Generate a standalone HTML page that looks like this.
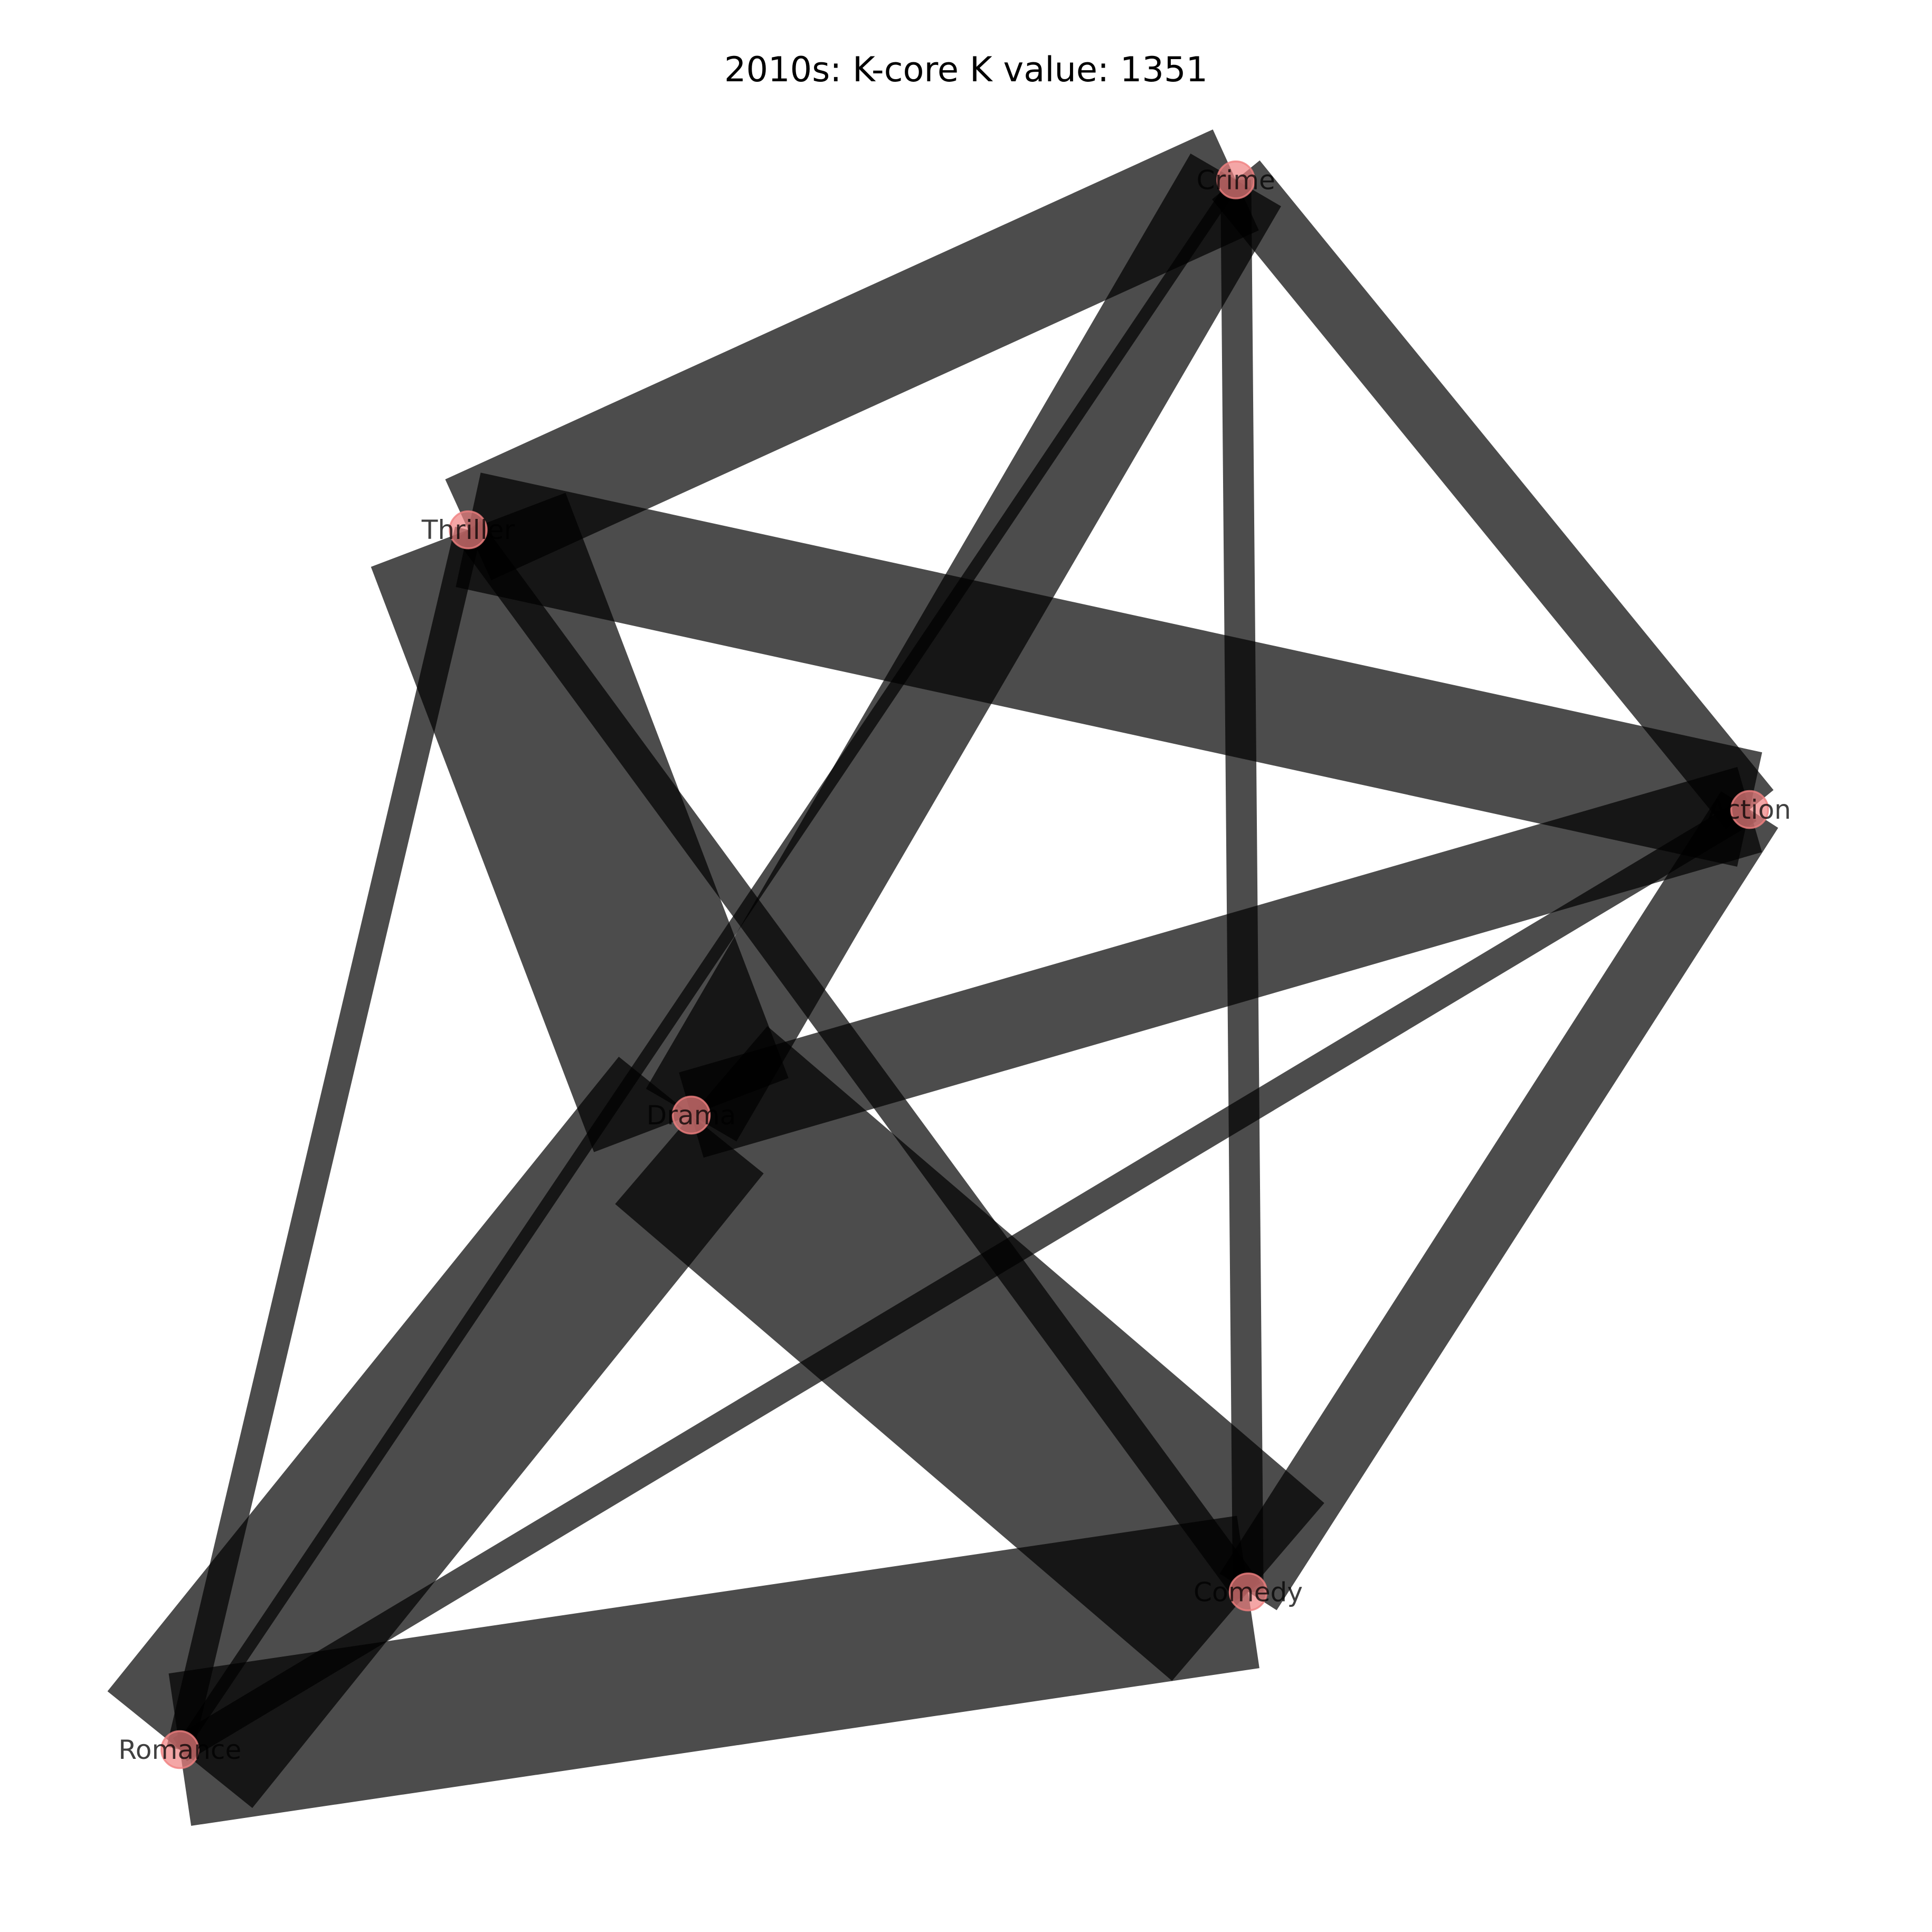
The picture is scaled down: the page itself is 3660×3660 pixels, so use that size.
<!DOCTYPE html>
<html><head><meta charset="utf-8"><style>
html,body{margin:0;padding:0;background:#fff}
svg{display:block}
</style></head><body>
<svg id="chart" width="3660" height="3660" viewBox="0 0 1568 1568" xmlns="http://www.w3.org/2000/svg">
<rect width="1568" height="1568" fill="#fff"/>
<text x="784" y="66" text-anchor="middle" font-family="DejaVu Sans, Liberation Sans, sans-serif" font-size="28" fill="#000">2010s: K-core K value: 1351</text>
<g id="edges"></g>
<g id="nodes"></g>
</svg>
<script>
const nodeNames = ["Crime","Thriller","Action","Drama","Comedy","Romance"];
const nodeX = [1003,380,1420,561,1013,146];
const nodeY = [146,430,657,905,1292,1420];
const edgeSource = ["Crime","Crime","Crime","Crime","Crime","Thriller","Thriller","Thriller","Thriller","Action","Action","Action","Drama","Drama","Comedy"];
const edgeTarget = ["Thriller","Drama","Action","Comedy","Romance","Action","Drama","Comedy","Romance","Drama","Comedy","Romance","Comedy","Romance","Romance"];
const edgeWeight = [90,85,50,25,10,95,169,25,22,72,55,22,190,151,125];

const NS = "http://www.w3.org/2000/svg";
const eg = document.getElementById("edges");
const ng = document.getElementById("nodes");
function idx(n){return nodeNames.indexOf(n);}
for (let i=0;i<edgeSource.length;i++){
  const a=idx(edgeSource[i]), b=idx(edgeTarget[i]);
  const l=document.createElementNS(NS,"line");
  l.setAttribute("x1",nodeX[a]);l.setAttribute("y1",nodeY[a]);
  l.setAttribute("x2",nodeX[b]);l.setAttribute("y2",nodeY[b]);
  l.setAttribute("stroke","#000");l.setAttribute("stroke-opacity","0.7");
  l.setAttribute("stroke-width",edgeWeight[i]);
  l.setAttribute("stroke-linecap","butt");
  
  
  eg.appendChild(l);
}
for (let i=0;i<nodeNames.length;i++){
  const c=document.createElementNS(NS,"circle");
  c.setAttribute("cx",nodeX[i]);c.setAttribute("cy",nodeY[i]);c.setAttribute("r",15);
  c.setAttribute("fill","#f08080");c.setAttribute("fill-opacity","0.7");
  c.setAttribute("stroke","#f08080");c.setAttribute("stroke-opacity","0.8");c.setAttribute("stroke-width","1.5");
  
  
  ng.appendChild(c);
  const t=document.createElementNS(NS,"text");
  t.setAttribute("x",nodeX[i]);t.setAttribute("y",nodeY[i]+7.5);
  t.setAttribute("text-anchor","middle");
  t.setAttribute("font-family","DejaVu Sans, Liberation Sans, sans-serif");
  t.setAttribute("font-size","21.5");t.setAttribute("fill","#000");t.setAttribute("fill-opacity","0.75");
  t.textContent=nodeNames[i];
  
  
  ng.appendChild(t);
}
</script>
</body></html>
